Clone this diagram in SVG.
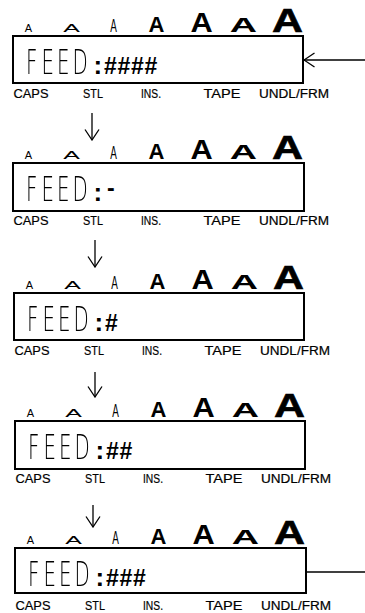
<svg xmlns="http://www.w3.org/2000/svg" xmlns:xlink="http://www.w3.org/1999/xlink" width="365" height="613" viewBox="0 0 365 613">
<style>
.a{font-family:"Liberation Sans",Arial,sans-serif;fill:#000;text-anchor:middle}
.b{font-weight:bold}
.lbl{font-family:"Liberation Sans",Arial,sans-serif;font-size:12.5px;fill:#000;stroke:#000;stroke-width:0.2}
.lcd{font-family:"DejaVu Sans",sans-serif;font-weight:200;font-size:33px;fill:#000;filter:url(#gray)}
.hash{font-family:"Liberation Sans",Arial,sans-serif;font-weight:bold;font-size:23px;fill:#000;letter-spacing:0.7px}
.col{font-family:"Liberation Sans",Arial,sans-serif;font-weight:bold;font-size:26px;fill:#000}
.box{fill:#fff;stroke:#000;stroke-width:2}
.ln{stroke:#000;stroke-width:1.3;fill:none}
</style>
<defs>
<filter id="gray" x="-20%" y="-20%" width="140%" height="140%">
<feColorMatrix type="saturate" values="0"/>
</filter>
<marker id="arr" markerUnits="userSpaceOnUse" viewBox="0 0 12 16" markerWidth="12" markerHeight="16" refX="11" refY="8" orient="auto">
<path d="M0.5,1 L11,8 L0.5,15" fill="none" stroke="#000" stroke-width="1.3"/>
</marker>
<g id="arow">
<text class="a" x="28.5" y="32" font-size="11">A</text>
<text class="a" transform="translate(71.5,32) scale(2.5,1)" font-size="10">A</text>
<text class="a" transform="translate(113.5,32) scale(0.55,1)" font-size="18">A</text>
<text class="a b" x="156.5" y="32" font-size="22">A</text>
<text class="a b" transform="translate(201.5,32) scale(1.1,1)" font-size="28">A</text>
<text class="a b" transform="translate(243.5,32) scale(1.8,1)" font-size="21">A</text>
<text class="a b" transform="translate(287.5,32) scale(1.3,1)" font-size="33" stroke="#000" stroke-width="0.6">A</text>
</g>
<g id="labels">
<text class="lbl" x="13.5" y="97.5" textLength="35" lengthAdjust="spacingAndGlyphs">CAPS</text>
<text class="lbl" x="83" y="97.5" textLength="20" lengthAdjust="spacingAndGlyphs">STL</text>
<text class="lbl" x="141" y="97.5" textLength="20" lengthAdjust="spacingAndGlyphs">INS.</text>
<text class="lbl" x="203.5" y="97.5" textLength="37" lengthAdjust="spacingAndGlyphs">TAPE</text>
<text class="lbl" x="259" y="97.5" textLength="70" lengthAdjust="spacingAndGlyphs">UNDL/FRM</text>
</g>
<text id="feed" class="lcd" transform="translate(26,74) scale(0.6,1)" x="0 25.8 51.7 77.5">FEED</text>
<text id="colon" class="col" x="93.5" y="74">:</text>
</defs>

<g id="panel1">
<use href="#arow"/>
<rect class="box" x="13" y="36" width="290" height="47"/>
<use href="#feed"/><use href="#colon"/>
<text class="hash" x="104" y="74">####</text>
<use href="#labels"/>
</g>

<g id="panel2" transform="translate(0,127)">
<use href="#arow"/>
<rect class="box" x="13" y="36" width="291" height="48"/>
<use href="#feed"/><use href="#colon"/>
<text class="hash" x="107" y="69">-</text>
<use href="#labels"/>
</g>

<g id="panel3" transform="translate(1,257)">
<use href="#arow"/>
<rect class="box" x="13" y="36" width="290" height="47"/>
<use href="#feed"/><use href="#colon"/>
<text class="hash" x="104" y="74">#</text>
<use href="#labels"/>
</g>

<g id="panel4" transform="translate(2,385)">
<use href="#arow"/>
<rect class="box" x="13" y="36" width="290" height="48"/>
<use href="#feed"/><use href="#colon"/>
<text class="hash" x="104" y="74">##</text>
<use href="#labels"/>
</g>

<g id="panel5" transform="translate(2,512)">
<use href="#arow"/>
<rect class="box" x="13" y="36" width="291" height="45"/>
<use href="#feed"/><use href="#colon"/>
<text class="hash" x="104" y="74">###</text>
<use href="#labels"/>
</g>

<g id="connectors">
<line class="ln" x1="365" y1="60" x2="304" y2="60" marker-end="url(#arr)"/>
<line class="ln" x1="92" y1="113" x2="92" y2="140" marker-end="url(#arr)"/>
<line class="ln" x1="95" y1="240" x2="95" y2="267" marker-end="url(#arr)"/>
<line class="ln" x1="95" y1="372" x2="95" y2="397" marker-end="url(#arr)"/>
<line class="ln" x1="93" y1="505" x2="93" y2="527" marker-end="url(#arr)"/>
<line class="ln" x1="307" y1="572" x2="365" y2="572"/>
</g>
</svg>
